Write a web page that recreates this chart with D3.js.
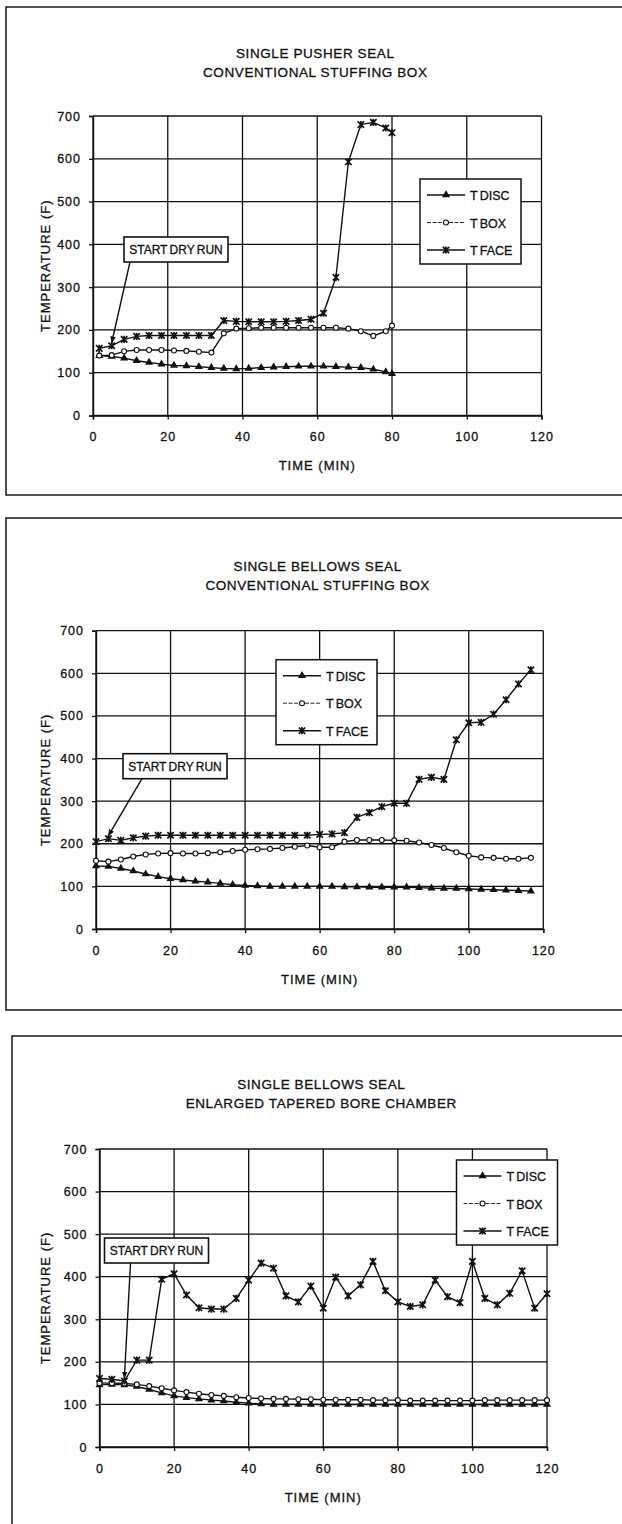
<!DOCTYPE html>
<html>
<head>
<meta charset="utf-8">
<script src="https://cdn.jsdelivr.net/npm/d3@7"></script>
<style>
  body { margin: 0; background: #fff; }
  svg { display: block; }
  text { font-family: "Liberation Sans", Arial, Helvetica, sans-serif; fill: #111; stroke: #111; stroke-width: 0.3px; }
</style>
</head>
<body>
<svg id="fig" width="622" height="1524"></svg>
<script>
// ---- Test 1: single pusher seal, conventional stuffing box ----
const timesPusher = [1.67, 5, 8.33, 11.67, 15, 18.33, 21.67, 25, 28.33, 31.67, 35, 38.33, 41.67,
  45, 48.33, 51.67, 55, 58.33, 61.67, 65, 68.33, 71.67, 75, 78.33, 80];
const discPusher = [140, 138, 134, 128, 124, 120, 117, 116, 114, 112, 110, 109, 110,
  112, 113, 114, 115, 115, 115, 114, 113, 112, 108, 102, 98];
const boxPusher = [140, 141, 150, 153, 153, 153, 152, 151, 149, 147, 192, 203, 204,
  205, 205, 205, 205, 205, 205, 205, 203, 197, 186, 197, 210];
const facePusher = [157, 163, 178, 185, 187, 187, 187, 187, 187, 187, 222, 220, 219,
  219, 219, 220, 222, 225, 239, 323, 593, 680, 685, 672, 661];

// ---- Test 2: single bellows seal, conventional stuffing box ----
const timesBellows = [0, 3.33, 6.67, 10, 13.33, 16.67, 20, 23.33, 26.67, 30, 33.33, 36.67,
  40, 43.33, 46.67, 50, 53.33, 56.67, 60, 63.33, 66.67, 70, 73.33, 76.67,
  80, 83.33, 86.67, 90, 93.33, 96.67, 100, 103.33, 106.67, 110, 113.33, 116.67];
const discBellows = [148, 147, 142, 136, 129, 123, 118, 115, 112, 110, 107, 104,
  102, 101, 100, 100, 100, 100, 100, 100, 99, 99, 98, 98,
  98, 98, 97, 96, 95, 95, 94, 93, 92, 91, 90, 89];
const boxBellows = [160, 158, 163, 170, 175, 177, 178, 177, 177, 178, 180, 183,
  186, 187, 188, 190, 193, 196, 192, 192, 205, 209, 209, 209,
  208, 207, 203, 197, 190, 180, 172, 168, 167, 165, 165, 167];
const faceBellows = [205, 212, 208, 214, 218, 220, 220, 220, 220, 220, 220, 220,
  220, 220, 220, 220, 220, 220, 222, 223, 226, 262, 273, 287,
  295, 295, 351, 356, 351, 444, 484, 485, 504, 538, 575, 608];

// ---- Test 3: single bellows seal, enlarged tapered bore chamber ----
const timesTapered = [0, 3.33, 6.67, 10, 13.33, 16.67, 20, 23.33, 26.67, 30, 33.33, 36.67,
  40, 43.33, 46.67, 50, 53.33, 56.67, 60, 63.33, 66.67, 70, 73.33, 76.67,
  80, 83.33, 86.67, 90, 93.33, 96.67, 100, 103.33, 106.67, 110, 113.33, 116.67, 120];
const discTapered = [146, 147, 146, 142, 135, 127, 120, 116, 113, 110, 108, 105,
  103, 101, 100, 100, 100, 100, 100, 100, 100, 100, 100, 100,
  100, 100, 100, 100, 100, 100, 100, 100, 100, 100, 100, 100, 100];
const boxTapered = [150, 150, 149, 147, 143, 138, 133, 129, 125, 122, 120, 117,
  115, 114, 113, 113, 112, 112, 111, 111, 111, 111, 110, 110,
  110, 109, 109, 109, 109, 109, 109, 110, 110, 110, 110, 110, 110];
const faceTapered = [161, 159, 155, 204, 204, 394, 407, 357, 327, 324, 324, 349,
  392, 432, 420, 355, 341, 378, 326, 399, 355, 381, 436, 367,
  341, 330, 334, 392, 353, 339, 436, 349, 334, 361, 414, 326, 360];

// Minute at which the dry run started in each test
const dryRunStart = [5, 3.33, 6.67];

const chartTitles = [
  ["SINGLE PUSHER SEAL", "CONVENTIONAL STUFFING BOX"],
  ["SINGLE BELLOWS SEAL", "CONVENTIONAL STUFFING BOX"],
  ["SINGLE BELLOWS SEAL", "ENLARGED TAPERED BORE CHAMBER"]
];
const seriesNames = ["T DISC", "T BOX", "T FACE"];
const xTicks = [0, 20, 40, 60, 80, 100, 120];
const yTicks = [0, 100, 200, 300, 400, 500, 600, 700];
const xLabel = "TIME (MIN)";
const yLabel = "TEMPERATURE (F)";
const noteText = "START DRY RUN";

// Page layout of the three framed charts
const layout = [
  { frame: { x: 6, y: 7, h: 488 }, plot: { x: 93, y: 116, w: 448.5, h: 299.5 }, titleY: 53,
    legend: { dx: 327, dy: 63 }, note: { dx: 31, dy: 121, ax: 6 } },
  { frame: { x: 6, y: 518, h: 492 }, plot: { x: 96, y: 630.7, w: 447.3, h: 298.3 }, titleY: 566,
    legend: { dx: 180, dy: 29 }, note: { dx: 27, dy: 123, ax: 19 } },
  { frame: { x: 12, y: 1036, h: 600 }, plot: { x: 99.5, y: 1149, w: 447.5, h: 298 }, titleY: 1084,
    legend: { dx: 357, dy: 11 }, note: { dx: 5, dy: 89, ax: 26 } }
];

const charts = [
  { times: timesPusher, series: [discPusher, boxPusher, facePusher] },
  { times: timesBellows, series: [discBellows, boxBellows, faceBellows] },
  { times: timesTapered, series: [discTapered, boxTapered, faceTapered] }
];

const svg = d3.select("#fig");
const ink = "#111";

svg.append("defs").append("marker")
  .attr("id", "arrowHead")
  .attr("viewBox", "0 0 10 10")
  .attr("refX", 9).attr("refY", 5)
  .attr("markerWidth", 7).attr("markerHeight", 8)
  .attr("markerUnits", "userSpaceOnUse")
  .attr("orient", "auto")
  .append("path").attr("d", "M0,1L10,5L0,9Z").attr("fill", ink);

// Marker painters: filled triangle, open circle, star (x with a vertical bar)
function drawMarker(g, kind, cx, cy) {
  if (kind === 0) {
    g.append("path")
      .attr("d", d3.symbol(d3.symbolTriangle, 28)())
      .attr("transform", `translate(${cx},${cy})`)
      .attr("fill", ink);
  } else if (kind === 1) {
    g.append("circle").attr("cx", cx).attr("cy", cy).attr("r", 2.5)
      .attr("fill", "#fff").attr("stroke", ink).attr("stroke-width", 1.1);
  } else {
    const s = 3.2;
    g.append("path")
      .attr("d", `M${-s},${-s}L${s},${s}M${s},${-s}L${-s},${s}M0,${-s - 0.4}L0,${s + 0.4}`)
      .attr("transform", `translate(${cx},${cy})`)
      .attr("fill", "none").attr("stroke", ink).attr("stroke-width", 1.7);
  }
}

charts.forEach((c, i) => {
  const L = layout[i];
  const p = L.plot;
  const g = svg.append("g");

  // outer frame (runs past the right edge of the page)
  g.append("rect")
    .attr("x", L.frame.x).attr("y", L.frame.y)
    .attr("width", 700).attr("height", L.frame.h)
    .attr("fill", "none").attr("stroke", "#222").attr("stroke-width", 1.6);

  // titles
  chartTitles[i].forEach((t, k) => {
    g.append("text")
      .attr("x", p.x + p.w / 2 - 2).attr("y", L.titleY + k * 19)
      .attr("text-anchor", "middle").attr("dominant-baseline", "central")
      .attr("font-size", 13.5).attr("letter-spacing", 0.6)
      .text(t);
  });

  const x = d3.scaleLinear().domain([0, 120]).range([p.x, p.x + p.w]);
  const y = d3.scaleLinear().domain([0, 700]).range([p.y + p.h, p.y]);

  // grid
  const grid = g.append("g").attr("stroke", ink).attr("stroke-width", 1.3);
  yTicks.forEach(v => grid.append("line")
    .attr("x1", x(0)).attr("x2", x(120)).attr("y1", y(v)).attr("y2", y(v)));
  xTicks.forEach(v => grid.append("line")
    .attr("x1", x(v)).attr("x2", x(v)).attr("y1", y(0)).attr("y2", y(700)));

  // axes
  const ax = g.append("g").attr("transform", `translate(${x(0)},0)`)
    .call(d3.axisLeft(y).tickValues(yTicks).tickSize(4).tickPadding(8).tickFormat(d3.format("d")));
  const bx = g.append("g").attr("transform", `translate(0,${y(0)})`)
    .call(d3.axisBottom(x).tickValues(xTicks).tickSize(4).tickPadding(13).tickFormat(d3.format("d")));
  [ax, bx].forEach(a => {
    a.selectAll("path.domain").attr("stroke", ink).attr("stroke-width", 1.4);
    a.selectAll(".tick line").attr("stroke", ink).attr("stroke-width", 1.3);
    a.selectAll(".tick text")
      .attr("font-family", "\"Liberation Sans\", Arial, sans-serif")
      .attr("font-size", 12.5).attr("letter-spacing", 1).attr("fill", ink);
  });

  // axis titles
  g.append("text")
    .attr("x", p.x + p.w / 2).attr("y", y(0) + 50)
    .attr("text-anchor", "middle").attr("dominant-baseline", "central")
    .attr("font-size", 13).attr("letter-spacing", 1)
    .text(xLabel);
  g.append("text")
    .attr("transform", `translate(45,${p.y + p.h / 2}) rotate(-90)`)
    .attr("text-anchor", "middle").attr("dominant-baseline", "central")
    .attr("font-size", 13).attr("letter-spacing", 1)
    .text(yLabel);

  // series
  const line = d3.line().x((d) => x(d[0])).y((d) => y(d[1]));
  c.series.forEach((vals, s) => {
    const pts = c.times.map((t, k) => [t, vals[k]]);
    g.append("path").attr("d", line(pts))
      .attr("fill", "none").attr("stroke", ink).attr("stroke-width", 1.4);
    const mg = g.append("g");
    pts.forEach(d => drawMarker(mg, s, x(d[0]), y(d[1])));
  });

  // dry-run callout
  const nx = p.x + L.note.dx, ny = p.y + L.note.dy;
  const tIdx = c.times.indexOf(dryRunStart[i]);
  const tipX = x(dryRunStart[i]), tipY = y(c.series[2][tIdx]) - 3;
  g.append("line")
    .attr("x1", nx + L.note.ax).attr("y1", ny + 25)
    .attr("x2", tipX).attr("y2", tipY)
    .attr("stroke", ink).attr("stroke-width", 1.4)
    .attr("marker-end", "url(#arrowHead)");
  g.append("rect").attr("x", nx).attr("y", ny).attr("width", 104).attr("height", 25)
    .attr("fill", "#fff").attr("stroke", ink).attr("stroke-width", 1.6);
  g.append("text").attr("x", nx + 52).attr("y", ny + 13)
    .attr("text-anchor", "middle").attr("dominant-baseline", "central")
    .attr("font-size", 12).attr("word-spacing", -1).text(noteText);

  // legend
  const lx = p.x + L.legend.dx, ly = p.y + L.legend.dy;
  const lg = g.append("g");
  lg.append("rect").attr("x", lx).attr("y", ly).attr("width", 101).attr("height", 85)
    .attr("fill", "#fff").attr("stroke", ink).attr("stroke-width", 1.5);
  seriesNames.forEach((name, s) => {
    const yy = ly + 16 + s * 27.5;
    lg.append("line").attr("x1", lx + 7).attr("x2", lx + 45).attr("y1", yy).attr("y2", yy)
      .attr("stroke", ink).attr("stroke-width", s === 1 ? 0.9 : 1.4)
      .attr("stroke-dasharray", s === 1 ? "4,1.5" : null);
    drawMarker(lg, s, lx + 26, yy);
    lg.append("text").attr("x", lx + 50).attr("y", yy + 1)
      .attr("dominant-baseline", "central")
      .attr("font-size", 12.5).attr("word-spacing", -1.2)
      .text(name);
  });
});
</script>
</body>
</html>
